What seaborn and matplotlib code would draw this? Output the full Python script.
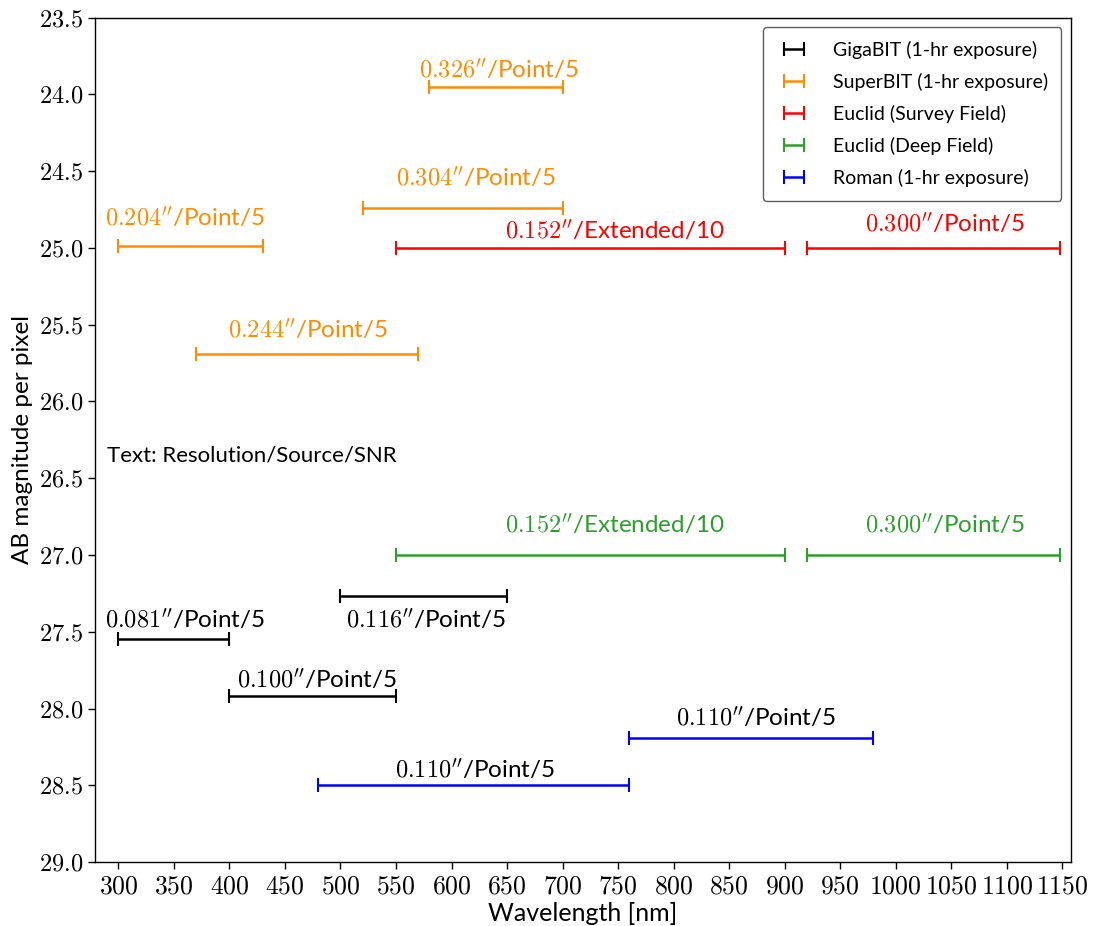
import matplotlib
matplotlib.use("Agg")
import matplotlib.pyplot as plt
import seaborn as sns
import numpy as np

sns.set_theme(style="ticks")
plt.rcParams['font.family'] = ['Lato', 'DejaVu Sans']
plt.rcParams['mathtext.fontset'] = 'cm'
for k in ['text.color', 'axes.labelcolor', 'xtick.color', 'ytick.color', 'axes.edgecolor']:
    plt.rcParams[k] = 'black'

# ---- data ----
instruments = ["GigaBIT (1-hr exposure)", "SuperBIT (1-hr exposure)",
               "Euclid (Survey Field)", "Euclid (Deep Field)", "Roman (1-hr exposure)"]
colors = ["black", "darkorange", "red", "tab:green", "blue"]
text_colors = ["black", "darkorange", "red", "tab:green", "black"]

# band edges (nm) and AB magnitude per pixel
giga_lo = [300, 500, 400]
giga_hi = [400, 650, 550]
giga_mag = [27.55, 27.27, 27.92]
giga_res = ["0.081", "0.116", "0.100"]
giga_lbl = ["Point/5", "Point/5", "Point/5"]

super_lo = [580, 520, 300, 370]
super_hi = [700, 700, 430, 570]
super_mag = [23.95, 24.74, 24.99, 25.69]
super_res = ["0.326", "0.304", "0.204", "0.244"]
super_lbl = ["Point/5", "Point/5", "Point/5", "Point/5"]

eus_lo = [550, 920]
eus_hi = [900, 1148]
eus_mag = [25.0, 25.0]
eus_res = ["0.152", "0.300"]
eus_lbl = ["Extended/10", "Point/5"]

eud_lo = [550, 920]
eud_hi = [900, 1148]
eud_mag = [27.0, 27.0]
eud_res = ["0.152", "0.300"]
eud_lbl = ["Extended/10", "Point/5"]

rom_lo = [760, 480]
rom_hi = [980, 760]
rom_mag = [28.19, 28.50]
rom_res = ["0.110", "0.110"]
rom_lbl = ["Point/5", "Point/5"]

# annotation anchor points (x centre, y centre)
giga_tx = [360, 577, 479]; giga_ty = [27.42, 27.42, 27.81]
super_tx = [643, 622, 360, 471]; super_ty = [23.84, 24.54, 24.80, 25.53]
eus_tx = [747, 1044]; eus_ty = [24.89, 24.84]
eud_tx = [747, 1044]; eud_ty = [26.80, 26.80]
rom_tx = [874, 621]; rom_ty = [28.06, 28.40]

groups = [
    (giga_lo, giga_hi, giga_mag, giga_res, giga_lbl, giga_tx, giga_ty),
    (super_lo, super_hi, super_mag, super_res, super_lbl, super_tx, super_ty),
    (eus_lo, eus_hi, eus_mag, eus_res, eus_lbl, eus_tx, eus_ty),
    (eud_lo, eud_hi, eud_mag, eud_res, eud_lbl, eud_tx, eud_ty),
    (rom_lo, rom_hi, rom_mag, rom_res, rom_lbl, rom_tx, rom_ty),
]

fig, ax = plt.subplots(figsize=(10.93, 9.26), dpi=100)
fig.subplots_adjust(left=0.087, right=0.980, top=0.981, bottom=0.069)

for (lo, hi, mag, res, lbl, tx, ty), name, col, tcol in zip(groups, instruments, colors, text_colors):
    lo = np.array(lo, float); hi = np.array(hi, float)
    mid = (lo + hi) / 2
    half = (hi - lo) / 2
    ax.errorbar(mid, mag, xerr=half, fmt='none', ecolor=col, elinewidth=1.8,
                capsize=5, capthick=1.5, label=name)
    for r, l, x, y in zip(res, lbl, tx, ty):
        ax.text(x, y, r"$%s^{\prime\prime}$/%s" % (r, l), color=tcol,
                fontsize=17.5, ha='center', va='center')

ax.text(290, 26.35, "Text: Resolution/Source/SNR", fontsize=16, ha='left', va='center')

ax.set_xlim(279, 1158)
ax.set_ylim(29.0, 23.5)
xt = np.arange(300, 1151, 50)
ax.set_xticks(xt)
ax.set_xticklabels([r"$%d$" % v for v in xt], fontsize=18.5)
yt = np.arange(23.5, 29.01, 0.5)
ax.set_yticks(yt)
ax.set_yticklabels([r"$%.1f$" % v for v in yt], fontsize=17.5)
ax.set_xlabel("Wavelength [nm]", fontsize=18, labelpad=2)
ax.set_ylabel("AB magnitude per pixel", fontsize=17.5)
ax.tick_params(direction='out', length=5, width=1)
for s in ax.spines.values():
    s.set_linewidth(1.0)

leg = ax.legend(loc='upper right', fontsize=14, frameon=True, borderpad=0.7,
                handlelength=1.8, handletextpad=1.1, labelspacing=0.72)
leg.get_frame().set_edgecolor('#333333')

fig.savefig("out.png", dpi=100)
